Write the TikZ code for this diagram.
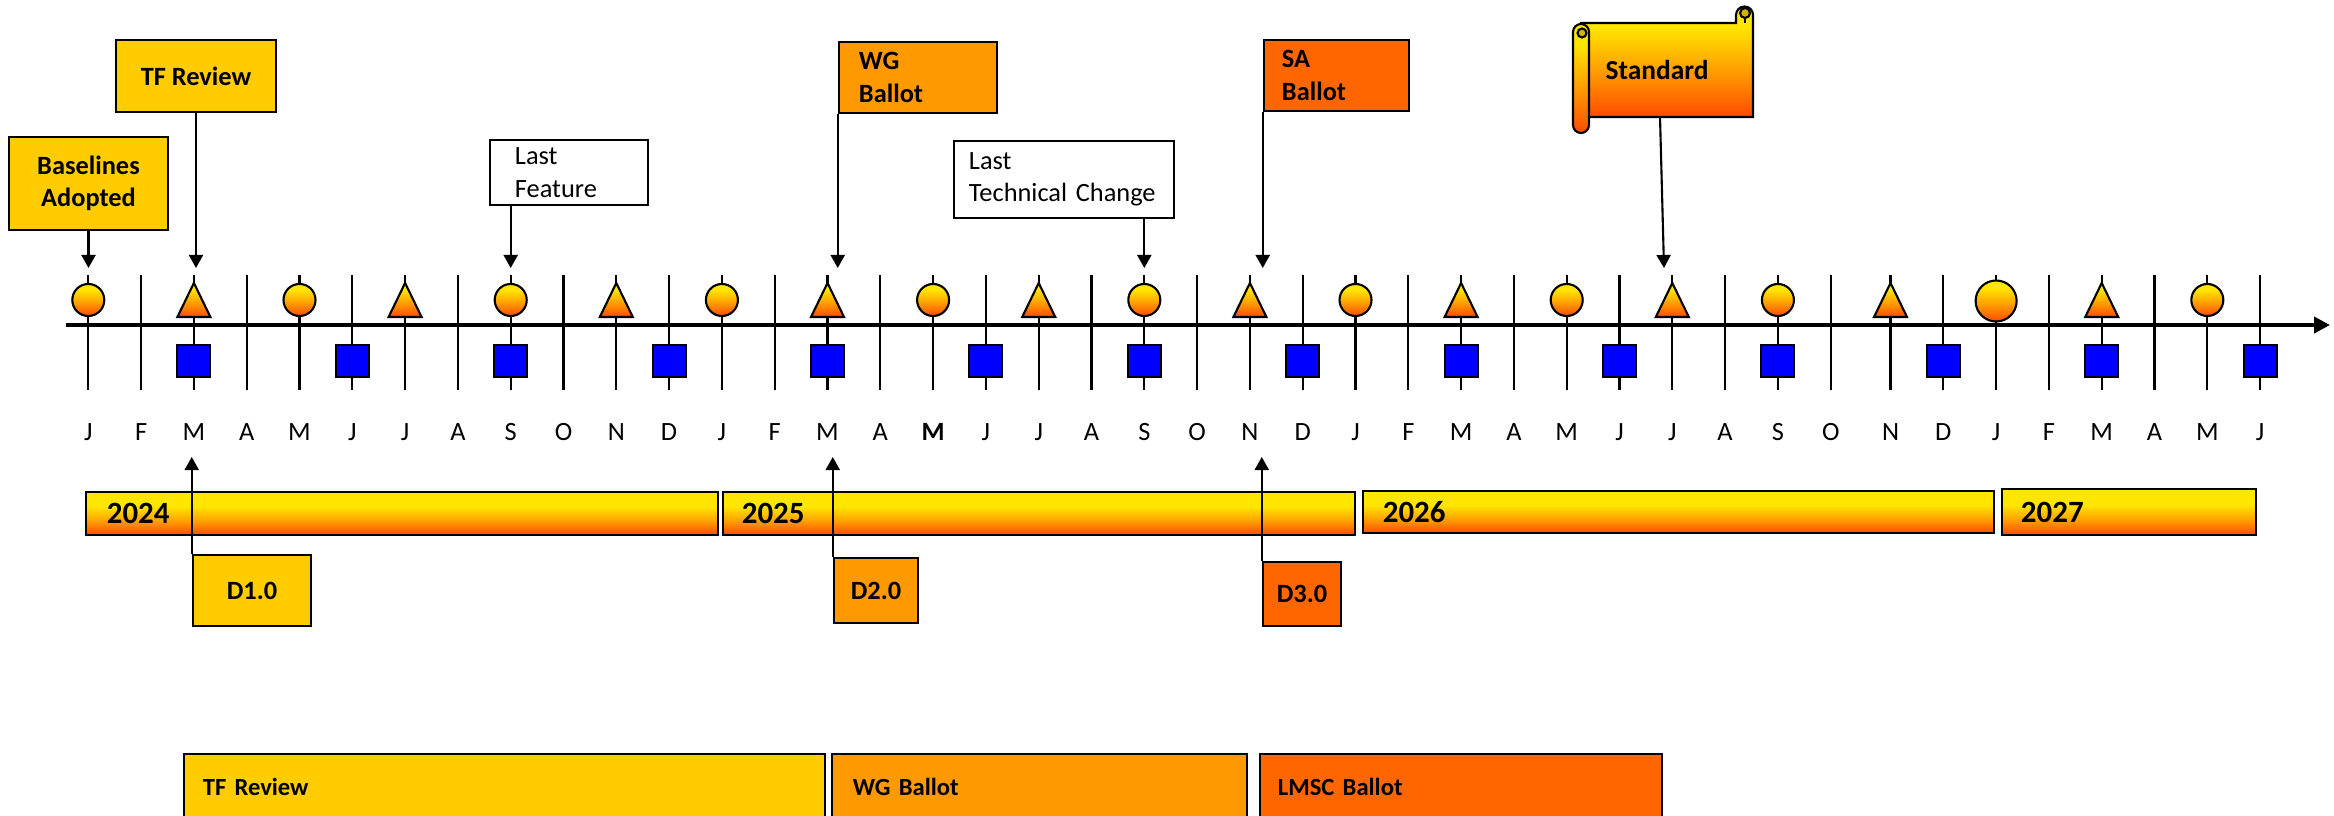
\documentclass[tikz,border=0pt]{standalone}
\usepackage{fontspec}
\setmainfont{Carlito}
\usetikzlibrary{arrows.meta,calc}
\definecolor{gold}{HTML}{FFCC00}
\definecolor{amber}{HTML}{FF9900}
\definecolor{tangerine}{HTML}{FF6600}
\definecolor{glowtop}{HTML}{FFE600}
\definecolor{glowmid}{HTML}{FFA200}
\definecolor{glowbot}{HTML}{FF4A00}
\definecolor{curl}{HTML}{D2B400}
\pgfdeclareverticalshading{barglow}{100bp}{color(0bp)=(glowbot); color(25bp)=(glowbot); color(42bp)=(glowmid); color(58bp)=(glowtop); color(100bp)=(glowtop)}
\pgfdeclareverticalshading{ballglow}{100bp}{color(0bp)=(glowbot); color(25bp)=(glowbot); color(47bp)=(glowmid); color(66bp)=(glowtop); color(100bp)=(glowtop)}
\tikzset{
  tick/.style={line width=0.6pt},
  ball/.style={draw,line width=0.6pt,shade,shading=ballglow},
  sq/.style={draw,line width=0.6pt,fill=blue},
  pointer/.style={line width=0.6pt,-{Triangle[length=0.13cm,width=0.14cm]}},
  tag/.style={draw,line width=0.7pt,inner sep=0pt,font=\fontsize{7.5}{9.2}\selectfont\bfseries},
  note/.style={draw,line width=0.7pt,fill=white,inner sep=0pt,align=left,font=\fontsize{7.5}{9.2}\selectfont},
  yearbar/.style={draw,line width=0.7pt,shade,shading=barglow,inner sep=0pt,align=left,font=\fontsize{8.8}{10}\selectfont\bfseries},
  phase/.style={draw,line width=0.7pt,inner sep=0pt,align=left,font=\fontsize{7}{8}\selectfont\bfseries},
  month/.style={font=\fontsize{7.5}{9}\selectfont},
}
\begin{document}
\begin{tikzpicture}[x=0.01cm,y=-0.01cm]
\useasboundingbox (0,0) rectangle (2334,816);
\clip (0,0) rectangle (2334,816);
% month ticks and letters
\foreach \lab [count=\i from 0] in {J,F,M,A,M,J,J,A,S,O,N,D,J,F,M,A,{\textbf{M}},J,J,A,S,O,N,D,J,F,M,A,M,J,J,A,S,O,N,D,J,F,M,A,M,J}{
  \pgfmathsetmacro\mx{88.3+52.8*\i+(\i>33)*7}
  \coordinate (m\i) at (\mx,0);
  \draw[tick] (\mx,275) -- (\mx,390);
  \node[month] (mo\i) at (\mx,432) {\lab};
}
\draw[line width=1.4pt,-{Triangle[length=0.16cm,width=0.16cm]}] (66,325) -- (2330,325);
% markers
\foreach \i in {0,4,...,32,40} \path[ball] ($(m\i)+(0,300)$) circle[radius=0.16cm];
\path[ball] ($(m36)+(0,301)$) circle[radius=0.205cm];
\foreach \i in {2,6,...,38} \path[ball] ($(m\i)+(-16.5,317)$) -- ++(16.5,-34) -- ++(16.5,34) -- cycle;
\foreach \i in {2,5,...,41} \path[sq] ($(m\i)+(-16.5,345)$) rectangle ++(33,32);
% milestone boxes
\node[tag,fill=gold,align=center,minimum width=1.59cm,minimum height=0.93cm] (ba) at (88.5,183.5) {Baselines\\Adopted};
\node[tag,fill=gold,minimum width=1.6cm,minimum height=0.72cm] (tf) at (196,76) {TF Review};
\node[note,minimum width=1.58cm,minimum height=0.65cm,text width=1.08cm] (lf) at (569,172.5) {Last\\Feature};
\node[tag,fill=amber,align=left,minimum width=1.58cm,minimum height=0.71cm,text width=1.18cm] (wg) at (918,77.5) {WG\\Ballot};
\node[note,minimum width=2.2cm,minimum height=0.77cm,text width=1.9cm] (ltc) at (1064,179.5) {Last\\Technical Change};
\node[tag,fill=tangerine,align=left,minimum width=1.45cm,minimum height=0.71cm,text width=1.09cm] (sa) at (1336.5,75.5) {SA\\Ballot};
% standard scroll
\path[ball] (1581,23) -- (1736,23) -- (1736,15) arc[start angle=180,end angle=0,radius=0.085cm] -- (1753,117) -- (1581,117) -- cycle;
\draw[line width=0.6pt] (1745,18) -- (1745,23);
\filldraw[fill=curl,line width=0.6pt] (1745,13) circle[radius=0.05cm];
\path[ball] (1573,32) arc[start angle=180,end angle=0,radius=0.08cm] -- (1589,125) arc[start angle=0,end angle=-180,radius=0.08cm] -- cycle;
\filldraw[fill=curl,line width=0.6pt] (1582,33) circle[radius=0.045cm];
\node[font=\fontsize{7.8}{9}\selectfont\bfseries] (std) at (1657,70) {Standard};
\coordinate (stdbot) at (1660,117);
\coordinate (stdtip) at (1664,268);
% arrows onto the axis
\coordinate (tiprow) at (0,268);
\draw[pointer] (ba.south) -- (ba.south |- tiprow);
\draw[pointer] (tf.south) -- (tf.south |- tiprow);
\draw[pointer] (lf.south -| m8) -- (m8 |- tiprow);
\draw[pointer] (wg.south west) -- (wg.south west |- tiprow);
\draw[pointer] (ltc.south -| m20) -- (m20 |- tiprow);
\draw[pointer] (sa.south west) -- (sa.south west |- tiprow);
\draw[pointer] (stdbot) -- (stdtip);
% years
\node[yearbar,minimum width=6.32cm,minimum height=0.43cm,text width=5.9cm] (y24) at (402,513.5) {2024};
\node[yearbar,minimum width=6.32cm,minimum height=0.43cm,text width=5.94cm] (y25) at (1039,513.5) {2025};
\node[yearbar,minimum width=6.31cm,minimum height=0.42cm,text width=5.91cm] (y26) at (1678.5,512) {2026};
\node[yearbar,minimum width=2.54cm,minimum height=0.46cm,text width=2.16cm] (y27) at (2129,512) {2027};
% drafts
\node[tag,fill=gold,minimum width=1.18cm,minimum height=0.71cm] (d1) at (252,590.5) {D1.0};
\node[tag,fill=amber,minimum width=0.84cm,minimum height=0.65cm] (d2) at (876,590.5) {D2.0};
\node[tag,fill=tangerine,minimum width=0.78cm,minimum height=0.64cm] (d3) at (1302,594) {D3.0};
\coordinate (uprow) at (0,457);
\draw[pointer] (d1.north west) -- (d1.north west |- uprow);
\draw[pointer] (d2.north west) -- (d2.north west |- uprow);
\draw[pointer] (d3.north west) -- (d3.north west |- uprow);
% ballot phases
\node[phase,fill=gold,minimum width=6.41cm,minimum height=0.66cm,text width=6.03cm] (ptf) at (504.5,787) {TF Review};
\node[phase,fill=amber,minimum width=4.15cm,minimum height=0.66cm,text width=3.73cm] (pwg) at (1039.5,787) {WG Ballot};
\node[phase,fill=tangerine,minimum width=4.02cm,minimum height=0.66cm,text width=3.66cm] (plm) at (1461,787) {LMSC Ballot};
\end{tikzpicture}
\end{document}
